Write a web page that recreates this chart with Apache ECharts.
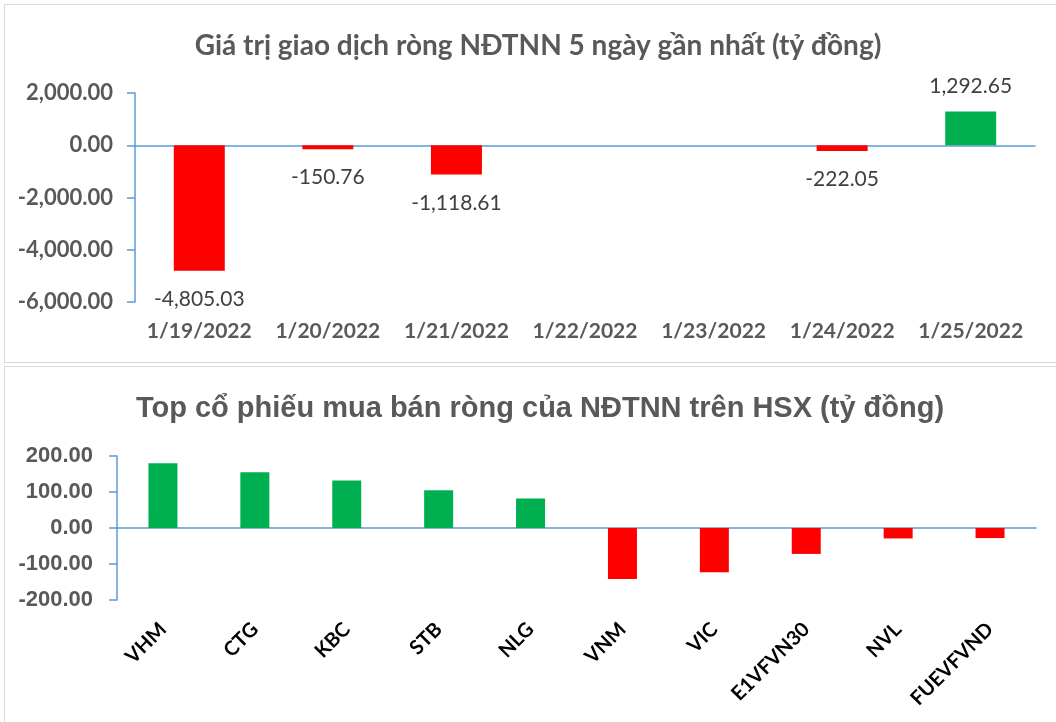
<!DOCTYPE html>
<html>
<head>
<meta charset="utf-8">
<script src="https://cdn.jsdelivr.net/npm/echarts@6/dist/echarts.min.js"></script>
<style>
    html, body { margin: 0; padding: 0; background: #fff; overflow: hidden; width: 1056px; height: 722px; }
    .panel { position: absolute; left: 4px; width: 1100px; border: 1px solid #d9d9d9; box-sizing: border-box; }
    #topPanel { top: 4px; height: 359px; }
    #bottomPanel { top: 366px; height: 400px; }
    .chart { width: 100%; height: 100%; }
</style>
</head>
<body>
<div class="panel" id="topPanel"><div class="chart" id="dayChart"></div></div>
<div class="panel" id="bottomPanel"><div class="chart" id="stockChart"></div></div>

<script>
/* eslint-disable */

// net foreign trading value, last days (ty dong)
const dayTitle = 'Giá trị giao dịch ròng NĐTNN 5 ngày gần nhất (tỷ đồng)';
const dayCategories = ['1/19/2022', '1/20/2022', '1/21/2022', '1/22/2022', '1/23/2022', '1/24/2022', '1/25/2022'];
const dayValues = [-4805.03, -150.76, -1118.61, null, null, -222.05, 1292.65];
const dayTicks = [-6000, -4000, -2000, 0, 2000];

// top stocks net buy/sell on HSX (ty dong)
const stockTitle = 'Top cổ phiếu mua bán ròng của NĐTNN trên HSX (tỷ đồng)';
const stockCategories = ['VHM', 'CTG', 'KBC', 'STB', 'NLG', 'VNM', 'VIC', 'E1VFVN30', 'NVL', 'FUEVFVND'];
const stockValues = [180, 155, 132, 105, 82, -142, -123, -72, -29, -28];
const stockTicks = [-200, -100, 0, 100, 200];

const RED = '#ff0000';
const GREEN = '#00b050';
const AXIS_BLUE = '#5b9bd5';
const GREY = '#595959';
const CAL = "Lato, 'Open Sans', sans-serif";
const ARIAL = "'Liberation Sans', Arial, sans-serif";

function fmt(v) {
    return Number(v).toLocaleString('en-US', { minimumFractionDigits: 2, maximumFractionDigits: 2 });
}

function barItems(values, withLabel) {
    return values.map((v) => {
        if (v === null) return '-';
        let item = {
            value: v,
            itemStyle: { color: v < 0 ? RED : GREEN }
        };
        if (withLabel) {
            item.label = v < 0 ? { position: 'bottom', distance: 18 } : { position: 'top', distance: 15 };
        }
        return item;
    });
}

// top chart
let dayChart = echarts.init(document.getElementById('dayChart'));
dayChart.setOption({
    animation: false,
    title: {
        text: dayTitle,
        left: 528,
        top: 22,
        textAlign: 'center',
        textStyle: {
            fontFamily: CAL,
            fontWeight: 'bold',
            fontSize: 28,
            color: GREY
        }
    },
    grid: {
        left: 130,
        top: 88,
        width: 900,
        height: 209
    },
    xAxis: [{
        type: 'category',
        data: dayCategories,
        position: 'bottom',
        axisLine: { show: false, onZero: false },
        axisTick: { show: false },
        axisLabel: {
            interval: 0,
            margin: 19,
            fontFamily: CAL,
            fontWeight: 'bold',
            fontSize: 21,
            color: GREY
        }
    }, {
        type: 'category',
        data: dayCategories,
        axisLine: { onZero: true, lineStyle: { color: AXIS_BLUE, width: 1.5 } },
        axisTick: { show: false },
        axisLabel: { show: false }
    }],
    yAxis: {
        type: 'value',
        min: dayTicks[0],
        max: dayTicks[dayTicks.length - 1],
        interval: 2000,
        splitLine: { show: false },
        axisLine: { show: true, lineStyle: { color: AXIS_BLUE, width: 1.5 } },
        axisTick: { show: true, length: 8, lineStyle: { color: AXIS_BLUE, width: 1.5 } },
        axisLabel: {
            margin: 22,
            formatter: fmt,
            fontFamily: CAL,
            fontWeight: 'bold',
            fontSize: 22,
            color: GREY
        }
    },
    series: [{
        type: 'bar',
        barWidth: 51,
        data: barItems(dayValues, true),
        label: {
            show: true,
            formatter: (p) => fmt(p.value),
            fontFamily: CAL,
            fontSize: 21,
            color: '#404040'
        }
    }]
});

// bottom chart
let stockChart = echarts.init(document.getElementById('stockChart'));
stockChart.setOption({
    animation: false,
    title: {
        text: stockTitle,
        left: 530,
        top: 22,
        textAlign: 'center',
        textStyle: {
            fontFamily: ARIAL,
            fontWeight: 'bold',
            fontSize: 29,
            color: GREY
        }
    },
    grid: {
        left: 112,
        top: 89,
        width: 919,
        height: 144
    },
    xAxis: [{
        type: 'category',
        data: stockCategories,
        position: 'bottom',
        axisLine: { show: false, onZero: false },
        axisTick: { show: false },
        axisLabel: {
            rotate: 45,
            margin: 26,
            interval: 0,
            fontFamily: CAL,
            fontWeight: 'bold',
            fontSize: 20,
            color: '#000'
        }
    }, {
        type: 'category',
        data: stockCategories,
        axisLine: { onZero: true, lineStyle: { color: AXIS_BLUE, width: 1.5 } },
        axisTick: { show: false },
        axisLabel: { show: false }
    }],
    yAxis: {
        type: 'value',
        min: stockTicks[0],
        max: stockTicks[stockTicks.length - 1],
        interval: 100,
        splitLine: { show: false },
        axisLine: { show: true, lineStyle: { color: AXIS_BLUE, width: 1.5 } },
        axisTick: { show: true, length: 8, lineStyle: { color: AXIS_BLUE, width: 1.5 } },
        axisLabel: {
            margin: 24,
            formatter: fmt,
            fontFamily: ARIAL,
            fontWeight: 'bold',
            fontSize: 22,
            color: GREY
        }
    },
    series: [{
        type: 'bar',
        barWidth: 29,
        data: barItems(stockValues, false)
    }]
});
</script>
</body>
</html>
